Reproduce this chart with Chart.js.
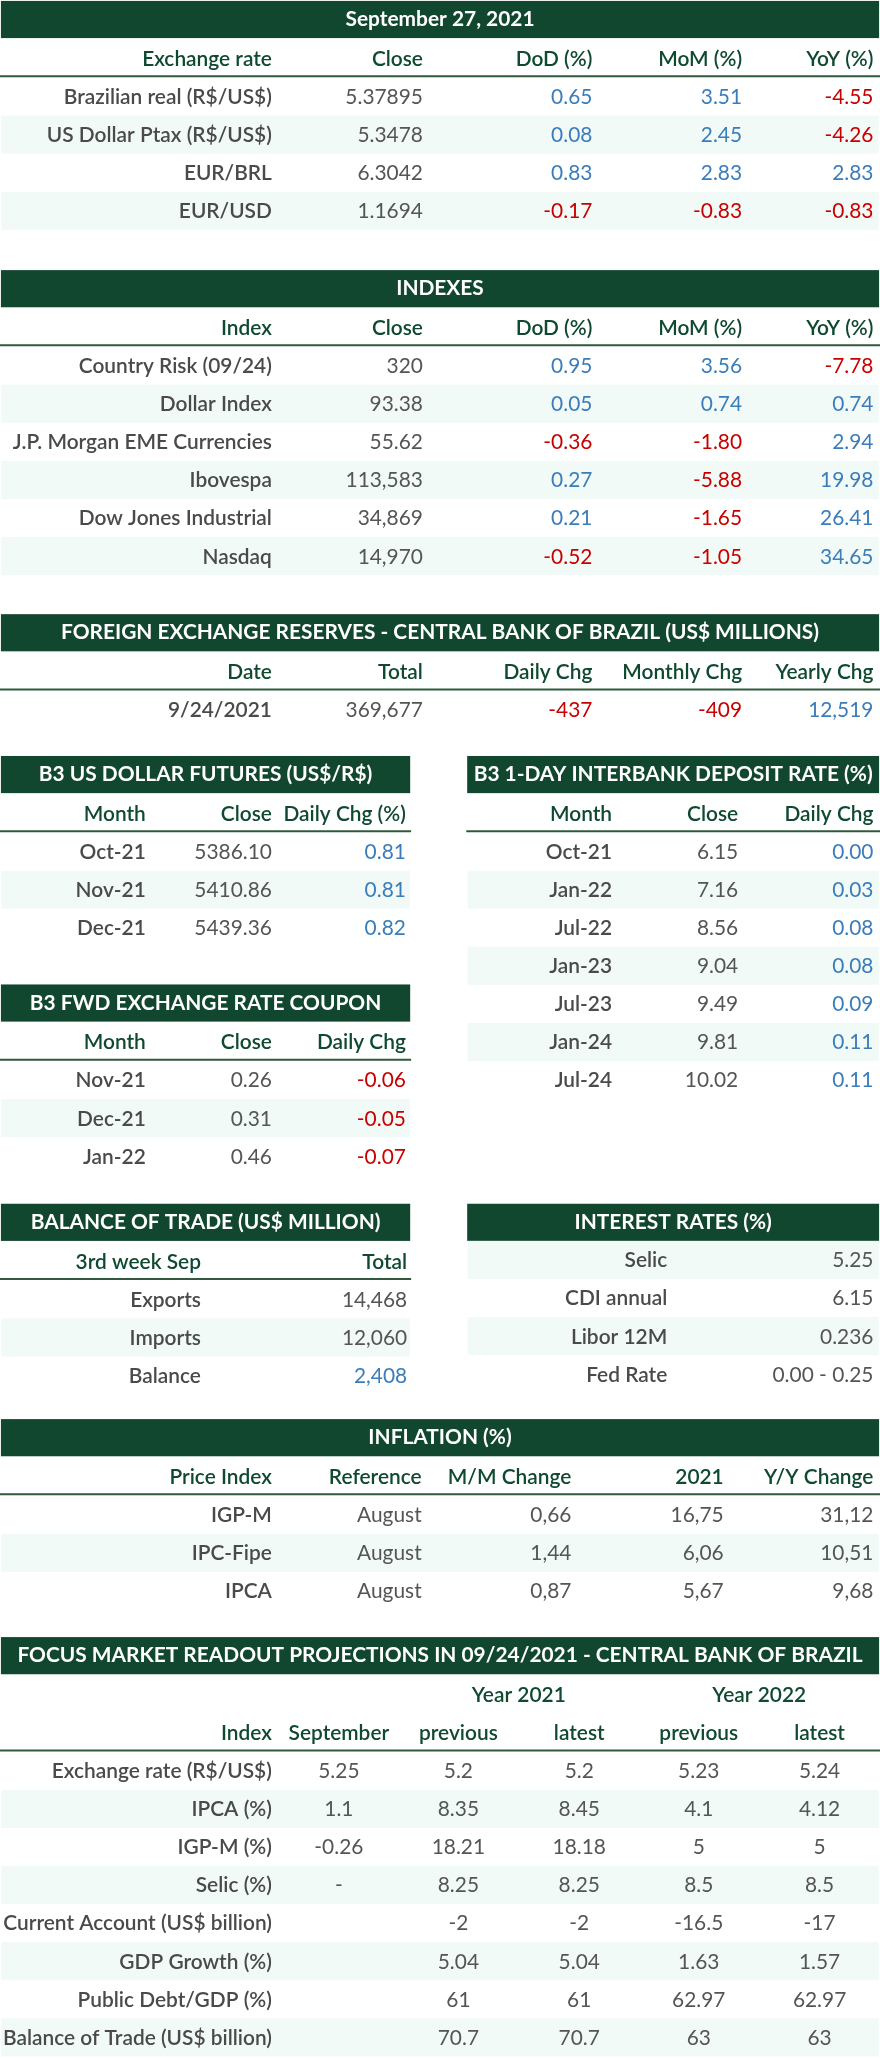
<!DOCTYPE html>
<html>
<head>
<meta charset="utf-8">
<title>Market summary - September 27, 2021</title>
<script src="https://cdn.jsdelivr.net/npm/chart.js@4/dist/chart.umd.min.js"></script>
<style>
  html, body { margin: 0; padding: 0; background: #ffffff; }
  #wrap { width: 880px; height: 2059px; position: relative; }
</style>
</head>
<body>
<div id="wrap"><canvas id="board"></canvas></div>
<script>
// Exchange rate
const fxHeader = ['Exchange rate', 'Close', 'DoD (%)', 'MoM (%)', 'YoY (%)'];
const fxNames = ['Brazilian real (R$/US$)', 'US Dollar Ptax (R$/US$)', 'EUR/BRL', 'EUR/USD'];
const fxClose = ['5.37895', '5.3478', '6.3042', '1.1694'];
const fxDod = ['0.65', '0.08', '0.83', '-0.17'];
const fxMom = ['3.51', '2.45', '2.83', '-0.83'];
const fxYoy = ['-4.55', '-4.26', '2.83', '-0.83'];

// Indexes
const idxHeader = ['Index', 'Close', 'DoD (%)', 'MoM (%)', 'YoY (%)'];
const idxNames = ['Country Risk (09/24)', 'Dollar Index', 'J.P. Morgan EME Currencies', 'Ibovespa', 'Dow Jones Industrial', 'Nasdaq'];
const idxClose = ['320', '93.38', '55.62', '113,583', '34,869', '14,970'];
const idxDod = ['0.95', '0.05', '-0.36', '0.27', '0.21', '-0.52'];
const idxMom = ['3.56', '0.74', '-1.80', '-5.88', '-1.65', '-1.05'];
const idxYoy = ['-7.78', '0.74', '2.94', '19.98', '26.41', '34.65'];

// Foreign exchange reserves
const resHeader = ['Date', 'Total', 'Daily Chg', 'Monthly Chg', 'Yearly Chg'];
const resDate = ['9/24/2021'];
const resTotal = ['369,677'];
const resDaily = ['-437'];
const resMonthly = ['-409'];
const resYearly = ['12,519'];

// B3 US dollar futures
const futHeader = ['Month', 'Close', 'Daily Chg (%)'];
const futMonths = ['Oct-21', 'Nov-21', 'Dec-21'];
const futClose = ['5386.10', '5410.86', '5439.36'];
const futChg = ['0.81', '0.81', '0.82'];

// B3 1-day interbank deposit rate
const diHeader = ['Month', 'Close', 'Daily Chg'];
const diMonths = ['Oct-21', 'Jan-22', 'Jul-22', 'Jan-23', 'Jul-23', 'Jan-24', 'Jul-24'];
const diClose = ['6.15', '7.16', '8.56', '9.04', '9.49', '9.81', '10.02'];
const diChg = ['0.00', '0.03', '0.08', '0.08', '0.09', '0.11', '0.11'];

// B3 fwd exchange rate coupon
const cpHeader = ['Month', 'Close', 'Daily Chg'];
const cpMonths = ['Nov-21', 'Dec-21', 'Jan-22'];
const cpClose = ['0.26', '0.31', '0.46'];
const cpChg = ['-0.06', '-0.05', '-0.07'];

// Balance of trade
const tradeHeader = ['3rd week Sep', 'Total'];
const tradeNames = ['Exports', 'Imports', 'Balance'];
const tradeTotal = ['14,468', '12,060', '2,408'];

// Interest rates
const rateNames = ['Selic', 'CDI annual', 'Libor 12M', 'Fed Rate'];
const rateValues = ['5.25', '6.15', '0.236', '0.00 - 0.25'];

// Inflation
const infHeader = ['Price Index', 'Reference', 'M/M Change', '2021', 'Y/Y Change'];
const infNames = ['IGP-M', 'IPC-Fipe', 'IPCA'];
const infRef = ['August', 'August', 'August'];
const infMm = ['0,66', '1,44', '0,87'];
const infYear = ['16,75', '6,06', '5,67'];
const infYy = ['31,12', '10,51', '9,68'];

// Focus market readout
const focYears = ['Year 2021', 'Year 2022'];
const focHeader = ['Index', 'September', 'previous', 'latest', 'previous', 'latest'];
const focNames = ['Exchange rate (R$/US$)', 'IPCA (%)', 'IGP-M (%)', 'Selic (%)', 'Current Account (US$ billion)', 'GDP Growth (%)', 'Public Debt/GDP (%)', 'Balance of Trade (US$ billion)'];
const focSep = ['5.25', '1.1', '-0.26', '-', '', '', '', ''];
const foc21Prev = ['5.2', '8.35', '18.21', '8.25', '-2', '5.04', '61', '70.7'];
const foc21Last = ['5.2', '8.45', '18.18', '8.25', '-2', '5.04', '61', '70.7'];
const foc22Prev = ['5.23', '4.1', '5', '8.5', '-16.5', '1.63', '62.97', '63'];
const foc22Last = ['5.24', '4.12', '5', '8.5', '-17', '1.57', '62.97', '63'];

// colours
const GREEN = '#12472f';
const HEAD = '#0f4a30';
const RULE = '#2f5a3c';
const SHADE = '#f1faf7';
const LABEL = '#4a4a4a';
const TEXT = '#555555';
const BLUE = '#3b7dbb';
const RED = '#c80000';
const FONT = 'Lato, "Noto Sans", sans-serif';
const SIZE = 15.9;

// layout, in board units (board is 670 wide)
const BAND = 29;
const ROW = 29;
const wide5 = [207, 322, 451, 565, 665].map(x => ({ x: x, a: 'right' }));
const left3 = [111, 207, 309].map(x => ({ x: x, a: 'right' }));
const right3 = [466, 562, 665].map(x => ({ x: x, a: 'right' }));

const tables = [
    { title: 'September 27, 2021', top: 0, x0: 0, x1: 670, cols: wide5,
      head: [fxHeader], body: [fxNames, fxClose, fxDod, fxMom, fxYoy],
      signed: (r, c) => c >= 2 },
    { title: 'INDEXES', top: 205, x0: 0, x1: 670, cols: wide5,
      head: [idxHeader], body: [idxNames, idxClose, idxDod, idxMom, idxYoy],
      signed: (r, c) => c >= 2 },
    { title: 'FOREIGN EXCHANGE RESERVES - CENTRAL BANK OF BRAZIL (US$ MILLIONS)', top: 467, x0: 0, x1: 670, cols: wide5,
      head: [resHeader], body: [resDate, resTotal, resDaily, resMonthly, resYearly],
      signed: (r, c) => c >= 2 },
    { title: 'B3 US DOLLAR FUTURES (US$/R$)', top: 575, x0: 0, x1: 313, cols: left3,
      head: [futHeader], body: [futMonths, futClose, futChg],
      signed: (r, c) => c === 2 },
    { title: 'B3 1-DAY INTERBANK DEPOSIT RATE (%)', top: 575, x0: 355, x1: 670, cols: right3,
      head: [diHeader], body: [diMonths, diClose, diChg],
      signed: (r, c) => c === 2 },
    { title: 'B3 FWD EXCHANGE RATE COUPON', top: 749, x0: 0, x1: 313, cols: left3,
      head: [cpHeader], body: [cpMonths, cpClose, cpChg],
      signed: (r, c) => c === 2 },
    { title: 'BALANCE OF TRADE (US$ MILLION)', top: 916, x0: 0, x1: 313,
      cols: [{ x: 153, a: 'right' }, { x: 310, a: 'right' }],
      head: [tradeHeader], body: [tradeNames, tradeTotal],
      signed: (r, c) => c === 1 && r === 2 },
    { title: 'INTEREST RATES (%)', top: 916, x0: 355, x1: 670, shadeFirst: true,
      cols: [{ x: 508, a: 'right' }, { x: 665, a: 'right' }],
      head: [], body: [rateNames, rateValues],
      signed: () => false },
    { title: 'INFLATION (%)', top: 1080, x0: 0, x1: 670,
      cols: [207, 321, 435, 551, 665].map(x => ({ x: x, a: 'right' })),
      head: [infHeader], body: [infNames, infRef, infMm, infYear, infYy],
      signed: () => false },
    { title: 'FOCUS MARKET READOUT PROJECTIONS IN 09/24/2021 - CENTRAL BANK OF BRAZIL', top: 1246, x0: 0, x1: 670,
      cols: [{ x: 207, a: 'right' }, { x: 258, a: 'center' }, { x: 349, a: 'center' }, { x: 441, a: 'center' }, { x: 532, a: 'center' }, { x: 624, a: 'center' }],
      spans: [{ text: focYears[0], x: 395 }, { text: focYears[1], x: 578 }],
      head: [focHeader], body: [focNames, focSep, foc21Prev, foc21Last, foc22Prev, foc22Last],
      signed: () => false }
];

// draws every table through the chart's x / y scales
const tablePlugin = {
    id: 'tables',
    afterDraw(chart) {
        const ctx = chart.ctx;
        const xs = chart.scales.x;
        const ys = chart.scales.y;
        const px = v => xs.getPixelForValue(v);
        const py = v => ys.getPixelForValue(v);
        const u = px(1) - px(0);
        const font = (w, size) => w + ' ' + (size * u).toFixed(2) + 'px ' + FONT;

        ctx.save();
        ctx.textBaseline = 'middle';

        tables.forEach(t => {
            // title band
            ctx.fillStyle = GREEN;
            ctx.fillRect(px(t.x0 + 0.7), py(t.top + 0.7), px(t.x1 - 0.7) - px(t.x0 + 0.7), py(t.top + BAND) - py(t.top + 0.7));
            ctx.fillStyle = '#ffffff';
            ctx.font = font('bold', SIZE);
            ctx.textAlign = 'center';
            ctx.fillText(t.title, px((t.x0 + t.x1) / 2), py(t.top + 14.8));

            // header rows
            let hy = t.top + BAND;
            const headRows = (t.spans ? 1 : 0) + t.head.length;
            ctx.fillStyle = HEAD;
            ctx.font = font('600', SIZE);
            if (t.spans) {
                ctx.textAlign = 'center';
                t.spans.forEach(s => ctx.fillText(s.text, px(s.x), py(hy + 16)));
                hy += ROW;
            }
            t.head.forEach(h => {
                h.forEach((txt, c) => {
                    ctx.textAlign = t.cols[c].a;
                    ctx.fillText(txt, px(t.cols[c].x), py(hy + 16));
                });
                hy += ROW;
            });

            // rule under the header
            let bodyTop = t.top + BAND + headRows * ROW;
            if (headRows > 0) {
                ctx.strokeStyle = RULE;
                ctx.lineWidth = 1.5 * u;
                ctx.beginPath();
                ctx.moveTo(px(t.x0), py(bodyTop));
                ctx.lineTo(px(t.x1), py(bodyTop));
                ctx.stroke();
                bodyTop += 1;
            }

            // body rows
            const n = t.body[0].length;
            for (let r = 0; r < n; r++) {
                const rTop = bodyTop + r * ROW;
                const shaded = t.shadeFirst ? r % 2 === 0 : r % 2 === 1;
                if (shaded) {
                    ctx.fillStyle = SHADE;
                    ctx.fillRect(px(t.x0 + 1), py(rTop), px(t.x1 - 1) - px(t.x0 + 1), py(rTop + ROW) - py(rTop));
                }
                t.body.forEach((col, c) => {
                    const v = col[r];
                    if (!v) return;
                    if (c === 0) {
                        ctx.fillStyle = LABEL;
                        ctx.font = font('600', SIZE);
                    } else {
                        ctx.font = font('normal', SIZE);
                        if (t.signed(r, c)) {
                            ctx.fillStyle = v.trim().charAt(0) === '-' ? RED : BLUE;
                        } else {
                            ctx.fillStyle = TEXT;
                        }
                    }
                    ctx.textAlign = t.cols[c].a;
                    ctx.fillText(v, px(t.cols[c].x), py(rTop + ROW / 2 + 0.5));
                });
            }
        });

        ctx.restore();
    }
};

document.addEventListener('DOMContentLoaded', function() {
    const boardCtx = document.getElementById('board').getContext('2d');
    new Chart(boardCtx, {
        type: 'scatter',
        data: { datasets: [] },
        options: {
            responsive: true,
            maintainAspectRatio: false,
            animation: false,
            events: [],
            layout: { padding: 0 },
            plugins: { legend: { display: false }, tooltip: { enabled: false }, title: { display: false } },
            scales: {
                x: { type: 'linear', min: 0, max: 670, display: false },
                y: { type: 'linear', min: 0, max: 1568, reverse: true, display: false }
            }
        },
        plugins: [tablePlugin]
    });
});
</script>
</body>
</html>
